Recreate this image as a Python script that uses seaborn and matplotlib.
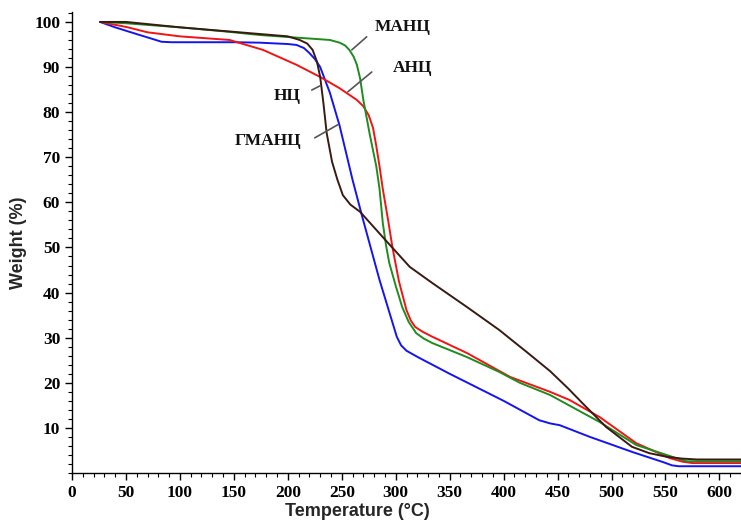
import numpy as np
import pandas as pd
import matplotlib
matplotlib.use("Agg")
import matplotlib.pyplot as plt
from matplotlib.ticker import MultipleLocator
import seaborn as sns

# ---- data ----
nc_x = [26, 40, 60, 75, 83, 92, 100, 150, 174, 200, 208, 215, 220, 225, 230, 239, 248, 260, 269,
        285, 301, 305, 310, 316, 322, 350, 400, 433, 443, 452, 480, 520, 548, 556, 562, 620]
nc_y = [100, 98.8, 97.3, 96.2, 95.6, 95.5, 95.5, 95.5, 95.4, 95.1, 94.9, 94.2, 93.1, 91.8, 90,
        84.3, 77, 65, 56.8, 42.8, 30.2, 28.3, 27.1, 26.3, 25.5, 22, 16, 11.7, 11, 10.6, 8, 4.6,
        2.4, 1.7, 1.5, 1.5]

anc_x = [26, 50, 70, 100, 146, 177, 208, 230, 248, 264, 270, 275, 279, 282, 285, 288, 293, 297,
         303, 310, 314, 318, 325, 334, 366, 406, 443, 461, 489, 523, 554, 566, 575, 620]
anc_y = [100, 98.9, 97.7, 96.8, 96.0, 93.8, 90.5, 87.8, 85.3, 82.7, 81.3, 79.3, 76.5, 72.5, 68,
         63, 56, 50, 42.5, 36.1, 33.8, 32.4, 31.3, 30.2, 26.6, 21.3, 18, 16.2, 12.4, 6.6, 3.3,
         2.5, 2.2, 2.2]

manc_x = [26, 50, 100, 146, 174, 239, 248, 253, 257, 261, 264, 267, 270, 276, 282, 285, 288, 291,
          294, 300, 306, 312, 319, 326, 334, 366, 396, 415, 443, 489, 523, 560, 570, 620]
manc_y = [100, 99.7, 98.8, 97.8, 97.1, 96, 95.4, 94.8, 93.8, 92.3, 90.5, 87.5, 82.7, 75, 68, 63,
          55.5, 50.5, 46.6, 41.5, 36.8, 33.5, 31, 29.8, 28.8, 25.7, 22.4, 20, 17.3, 11.3, 6.2,
          3.3, 2.6, 2.6]

gmanc_x = [26, 50, 100, 150, 200, 211, 218, 223, 227, 230, 233, 236, 241, 246, 251, 258, 267,
           288, 313, 334, 366, 396, 410, 421, 443, 460, 473, 495, 519, 535, 551, 565, 579, 620]
gmanc_y = [100, 100, 98.8, 97.8, 96.8, 96, 95.2, 93.8, 91.2, 87.8, 82, 75.4, 69, 65, 61.6, 59.5,
           57.9, 52.3, 45.7, 42.1, 36.8, 31.7, 29.0, 26.9, 22.6, 18.7, 15.5, 10.2, 5.8, 4.4, 3.6,
           3.2, 3.0, 3.0]

series_names = ["НЦ", "АНЦ", "МАНЦ", "ГМАНЦ"]
series_colors = ["#1414f0", "#f01414", "#1e8c1e", "#3a1a12"]

x_ticks = list(range(0, 601, 50))
y_ticks = list(range(10, 101, 10))

# ---- build long table ----
frames = []
for name, xs, ys in zip(series_names, [nc_x, anc_x, manc_x, gmanc_x],
                        [nc_y, anc_y, manc_y, gmanc_y]):
    frames.append(pd.DataFrame({"T": xs, "W": ys, "sample": name}))
df = pd.concat(frames, ignore_index=True)

sns.set_style("ticks")
fig = plt.figure(figsize=(7.41, 5.25), dpi=100)
ax = fig.add_axes([72 / 741, 52 / 525, 669 / 741, 461 / 525])

sns.lineplot(data=df, x="T", y="W", hue="sample", hue_order=series_names,
             palette=dict(zip(series_names, series_colors)), linewidth=1.4,
             sort=False, estimator=None, legend=False, ax=ax)
for ln in ax.get_lines():
    ln.set_solid_joinstyle("round")

ax.set_xlim(0, 620)
ax.set_ylim(0, 102.2)
ax.set_xticks(x_ticks)
ax.set_yticks(y_ticks)
ax.xaxis.set_minor_locator(MultipleLocator(10))
ax.yaxis.set_minor_locator(MultipleLocator(2))
ax.tick_params(which="major", direction="out", length=5, width=1, colors="black")
ax.tick_params(which="minor", direction="out", length=3, width=0.8, colors="black")
for lab in ax.get_xticklabels() + ax.get_yticklabels():
    lab.set_fontfamily("Liberation Serif")
    lab.set_fontweight("bold")
    lab.set_fontsize(12.5)
sns.despine(ax=ax)
for s in ["left", "bottom"]:
    ax.spines[s].set_color("black")
    ax.spines[s].set_linewidth(1.0)

ax.set_xlabel("Temperature (°C)", fontfamily="Liberation Sans", fontweight="bold", fontsize=13)
ax.set_ylabel("Weight (%)", fontfamily="Liberation Sans", fontweight="bold", fontsize=13)
ax.xaxis.set_label_coords(0.426, -0.066)
ax.yaxis.set_label_coords(-0.068, 0.5)

# ---- annotations ----
ann = [
    ("МАНЦ", (306.5, 98.9), (259.3, 93.8), (273.1, 96.7)),
    ("АНЦ", (315.7, 89.8), (255.6, 84.5), (277.8, 88.9)),
    ("НЦ", (199.0, 83.6), (222.2, 84.9), (229.6, 85.8)),
    ("ГМАНЦ", (181.5, 73.6), (246.3, 77.2), (225.0, 74.3)),
]
for text, tpos, p1, p2 in ann:
    ax.text(tpos[0], tpos[1], text, ha="center", va="center", fontsize=12.5,
            fontfamily="Liberation Serif", fontweight="bold", color="#111111")
    ax.annotate("", xy=p1, xytext=p2,
                arrowprops=dict(arrowstyle="-", color="#555555", lw=1.2,
                                shrinkA=0, shrinkB=0))

fig.savefig("out.png", dpi=100)
